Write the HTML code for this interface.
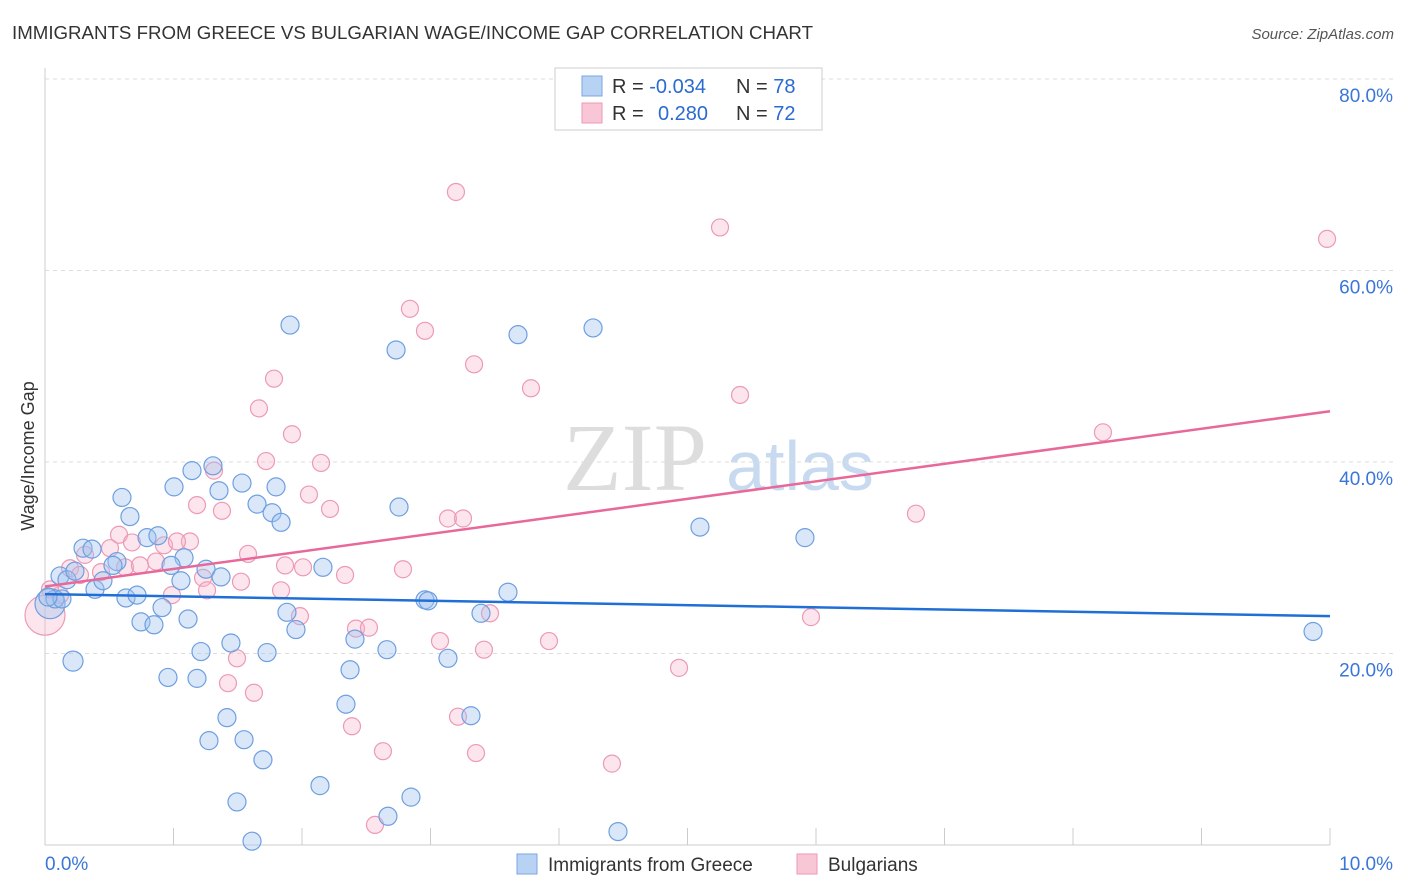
<!DOCTYPE html>
<html><head><meta charset="utf-8"><style>
body{margin:0;background:#fff;font-family:"Liberation Sans",sans-serif;}
svg{display:block}
</style></head><body>
<svg id="c" width="1406" height="892">
<text x="12" y="39" font-size="18" fill="#333" textLength="801" lengthAdjust="spacingAndGlyphs">IMMIGRANTS FROM GREECE VS BULGARIAN WAGE/INCOME GAP CORRELATION CHART</text>
<text x="1394" y="39" font-size="15" fill="#555" text-anchor="end" font-style="italic">Source: ZipAtlas.com</text>
<text x="635" y="490" font-size="96" fill="#ddd" font-family="Liberation Serif" text-anchor="middle">ZIP</text>
<text x="800" y="490" font-size="70" fill="#c8daf0" text-anchor="middle">atlas</text>
<text x="34" y="456" font-size="18" fill="#333" text-anchor="middle" transform="rotate(-90 34 456)">Wage/Income Gap</text>
<g id="grid"></g><g id="pts"></g><g id="lines"></g>
<g>
<rect x="555" y="68" width="267" height="62" fill="#fff" stroke="#ccc"/>
<rect x="582" y="76" width="20" height="20" fill="#b8d2f4" stroke="#7aa6e0"/>
<rect x="582" y="103" width="20" height="20" fill="#f9c6d6" stroke="#ec9ab6"/>
<text x="612" y="93" font-size="20" fill="#333">R = <tspan fill="#2a6bd1">-0.034</tspan><tspan x="736">N = </tspan><tspan fill="#2a6bd1">78</tspan></text>
<text x="612" y="120" font-size="20" fill="#333">R = <tspan x="658" fill="#2a6bd1">0.280</tspan><tspan x="736">N = </tspan><tspan fill="#2a6bd1">72</tspan></text>
</g>
<g>
<rect x="517" y="854" width="20" height="20" fill="#b8d2f4" stroke="#7aa6e0"/>
<text x="548" y="871" font-size="19" fill="#333">Immigrants from Greece</text>
<rect x="797" y="854" width="20" height="20" fill="#f9c6d6" stroke="#ec9ab6"/>
<text x="828" y="871" font-size="19" fill="#333">Bulgarians</text>
</g>
</svg>
<script>
const yTicks=[20,40,60,80];
const xTickLabels=["0.0%","10.0%"];
const blueX=[1.907,2.732,3.681,4.265,0.599,0.661,1.004,1.144,1.307,1.354,1.533,1.798,1.650,1.767,1.837,2.755,5.097,5.914,0.296,0.366,0.560,0.794,0.879,1.082,0.981,1.253,0.529,0.117,0.171,0.233,0.389,0.451,1.058,1.370,2.163,3.603,2.957,2.981,3.393,0.630,0.716,0.911,1.113,0.747,0.848,1.447,1.728,1.214,2.412,2.661,3.136,0.218,0.957,1.183,2.374,2.342,1.416,3.315,1.276,1.549,1.696,1.494,2.140,2.848,2.669,1.611,4.459,9.868,0.039,0.078,0.132,0.023,1.883,1.953];
const blueY=[54.3,51.7,53.3,54.0,36.3,34.3,37.4,39.1,39.6,37.0,37.8,37.4,35.6,34.7,33.7,35.3,33.2,32.1,31.0,30.9,29.6,32.1,32.3,30.0,29.2,28.8,29.2,28.1,27.7,28.6,26.7,27.6,27.6,28.0,29.0,26.4,25.6,25.5,24.2,25.8,26.1,24.8,23.6,23.3,23.0,21.1,20.1,20.2,21.5,20.4,19.5,19.2,17.5,17.4,18.3,14.7,13.3,13.5,10.9,11.0,8.9,4.5,6.2,5.0,3.0,0.4,1.4,22.3,25.2,25.7,25.7,25.9,24.3,22.5];
const blueR=[9,9,9,9,9,9,9,9,9,9,9,9,9,9,9,9,9,9,9,9,9,9,9,9,9,9,9,9,9,9,9,9,9,9,9,9,9,9,9,9,9,9,9,9,9,9,9,9,9,9,9,10,9,9,9,9,9,9,9,9,9,9,9,9,9,9,9,9,15,9,9,9,9,9];
const pinkX=[3.198,5.253,9.977,2.840,2.957,3.339,3.782,5.409,1.782,1.665,1.922,1.720,2.148,1.315,8.233,1.183,1.377,2.054,2.218,3.136,3.253,6.778,0.576,0.677,1.128,0.926,1.027,0.864,1.580,0.506,1.868,2.008,2.335,2.786,0.311,0.195,0.272,0.436,0.623,0.739,1.230,1.261,1.525,1.837,0.988,0.117,0.039,1.984,2.420,2.521,3.074,3.416,3.463,3.922,5.961,4.934,1.494,1.424,1.626,2.389,2.630,3.214,3.354,4.412,2.568,0.0];
const pinkY=[68.2,64.5,63.3,56.0,53.7,50.2,47.7,47.0,48.7,45.6,42.9,40.1,39.9,39.1,43.1,35.5,34.9,36.6,35.1,34.1,34.1,34.6,32.4,31.6,31.7,31.3,31.7,29.6,30.4,31.0,29.2,29.0,28.2,28.8,30.3,28.9,28.2,28.5,29.0,29.2,27.9,26.6,27.5,26.6,26.1,26.1,26.7,23.9,22.6,22.7,21.3,20.4,24.2,21.3,23.8,18.5,19.5,16.9,15.9,12.4,9.8,13.4,9.6,8.5,2.1,24.0];
const blueTrend=[26.2,23.9];
const pinkTrend=[27.0,45.3];
const X=v=>45+v/10*1285, Y=v=>845-v/20*191.5;
const NS="http://www.w3.org/2000/svg";
function mk(t,a,p){const e=document.createElementNS(NS,t);for(const k in a)e.setAttribute(k,a[k]);p.appendChild(e);return e;}
const grid=document.getElementById('grid');
yTicks.forEach(t=>{
 const l=mk('line',{x1:45,x2:1394,y1:Y(t),y2:Y(t),stroke:'#ddd','stroke-dasharray':'4,4'},grid);
 
 
 const tx=mk('text',{x:1393,y:Y(t)+23,'font-size':19,fill:'#3a76d8','text-anchor':'end'},grid);
 tx.textContent=t.toFixed(1)+'%';
 
 
});
mk('line',{x1:45,x2:45,y1:68,y2:845,stroke:'#ccc'},grid);
mk('line',{x1:45,x2:1330,y1:845,y2:845,stroke:'#ccc'},grid);
for(let i=0;i<=10;i++){const t=mk('line',{x1:X(i),x2:X(i),y1:828,y2:845,stroke:'#ccc'},grid);
 
 }
xTickLabels.forEach((s,i)=>{const t=mk('text',{x:i?1393:45,y:870,'font-size':19,fill:'#3a76d8','text-anchor':i?'end':'start'},grid);t.textContent=s;
 
 });
const pts=document.getElementById('pts');
pinkX.forEach((x,i)=>{const c=mk('circle',{cx:X(x),cy:Y(pinkY[i]),r:i==pinkX.length-1?20:8.5,fill:'rgba(246,180,202,0.35)',stroke:'#ec9ab6','stroke-width':1.2},pts);
 
 });
blueX.forEach((x,i)=>{const c=mk('circle',{cx:X(x),cy:Y(blueY[i]),r:blueR[i],fill:'rgba(160,196,240,0.4)',stroke:'#6e9fe0','stroke-width':1.2},pts);
 
 });
const ln=document.getElementById('lines');
const b=mk('line',{x1:X(0),y1:Y(blueTrend[0]),x2:X(10),y2:Y(blueTrend[1]),stroke:'#1f6fd6','stroke-width':2.5},ln);


const p=mk('line',{x1:X(0),y1:Y(pinkTrend[0]),x2:X(10),y2:Y(pinkTrend[1]),stroke:'#e8689a','stroke-width':2.5},ln);


</script>
</body></html>
